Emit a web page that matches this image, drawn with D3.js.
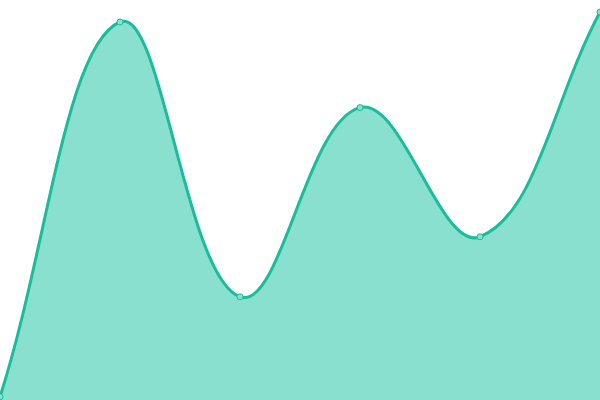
<!DOCTYPE html>
<html><head><meta charset="utf-8">
<script src="https://cdn.jsdelivr.net/npm/d3@7"></script>
<style>html,body{margin:0;padding:0;background:#fff;overflow:hidden}</style>
</head><body>
<svg id="c" width="600" height="400"></svg>
<script>
const categories = [0, 1, 2, 3, 4, 5];
const values = [0.8, 94.5, 25.8, 73.1, 40.8, 97];

const W = 600, H = 400;
const svg = d3.select("#c");
const x = d3.scaleLinear().domain([0, categories.length - 1]).range([0, W]);
const y = d3.scaleLinear().domain([0, 100]).range([H, 0]);
const data = categories.map((c, i) => ({c, v: values[i]}));

// Tension-based spline (distance-weighted control points), as a D3 curve
function tensionCurve(t) {
  return function(context) {
    return {
      _context: context,
      areaStart() { this._line = 0; },
      areaEnd() { this._line = NaN; },
      lineStart() { this._pts = []; },
      point(px, py) { this._pts.push([+px, +py]); },
      lineEnd() {
        const p = this._pts, n = p.length, c = this._context;
        if (n) {
          if (this._line) c.lineTo(p[0][0], p[0][1]); else c.moveTo(p[0][0], p[0][1]);
          const ctrl = p.map((cur, i) => {
            const prev = p[Math.max(0, i - 1)], next = p[Math.min(n - 1, i + 1)];
            const d01 = Math.hypot(cur[0] - prev[0], cur[1] - prev[1]);
            const d12 = Math.hypot(next[0] - cur[0], next[1] - cur[1]);
            let s01 = d01 / (d01 + d12), s12 = d12 / (d01 + d12);
            if (isNaN(s01)) s01 = 0; if (isNaN(s12)) s12 = 0;
            const fa = t * s01, fb = t * s12;
            return {
              prev: [cur[0] - fa * (next[0] - prev[0]), cur[1] - fa * (next[1] - prev[1])],
              next: [cur[0] + fb * (next[0] - prev[0]), cur[1] + fb * (next[1] - prev[1])]
            };
          });
          for (let i = 1; i < n; i++) {
            const a = ctrl[i - 1].next, b = ctrl[i].prev;
            c.bezierCurveTo(a[0], a[1], b[0], b[1], p[i][0], p[i][1]);
          }
        }
        if (this._line || (this._line !== 0 && n === 1)) c.closePath();
        this._line = 1 - this._line;
      }
    };
  };
}
const curve = tensionCurve(0.4);

const area = d3.area().x(d => x(d.c)).y0(H).y1(d => y(d.v)).curve(curve);
const line = d3.line().x(d => x(d.c)).y(d => y(d.v)).curve(curve);

svg.append("path").datum(data).attr("d", area).attr("fill", "#8ae0cf");
svg.append("path").datum(data).attr("d", line).attr("fill", "none")
  .attr("stroke", "#1abc9c").attr("stroke-width", 3);
svg.selectAll("circle").data(data).join("circle")
  .attr("cx", d => x(d.c)).attr("cy", d => y(d.v)).attr("r", 3)
  .attr("fill", "#8ae0cf").attr("stroke", "#1abc9c").attr("stroke-width", 1);
</script>
</body></html>
